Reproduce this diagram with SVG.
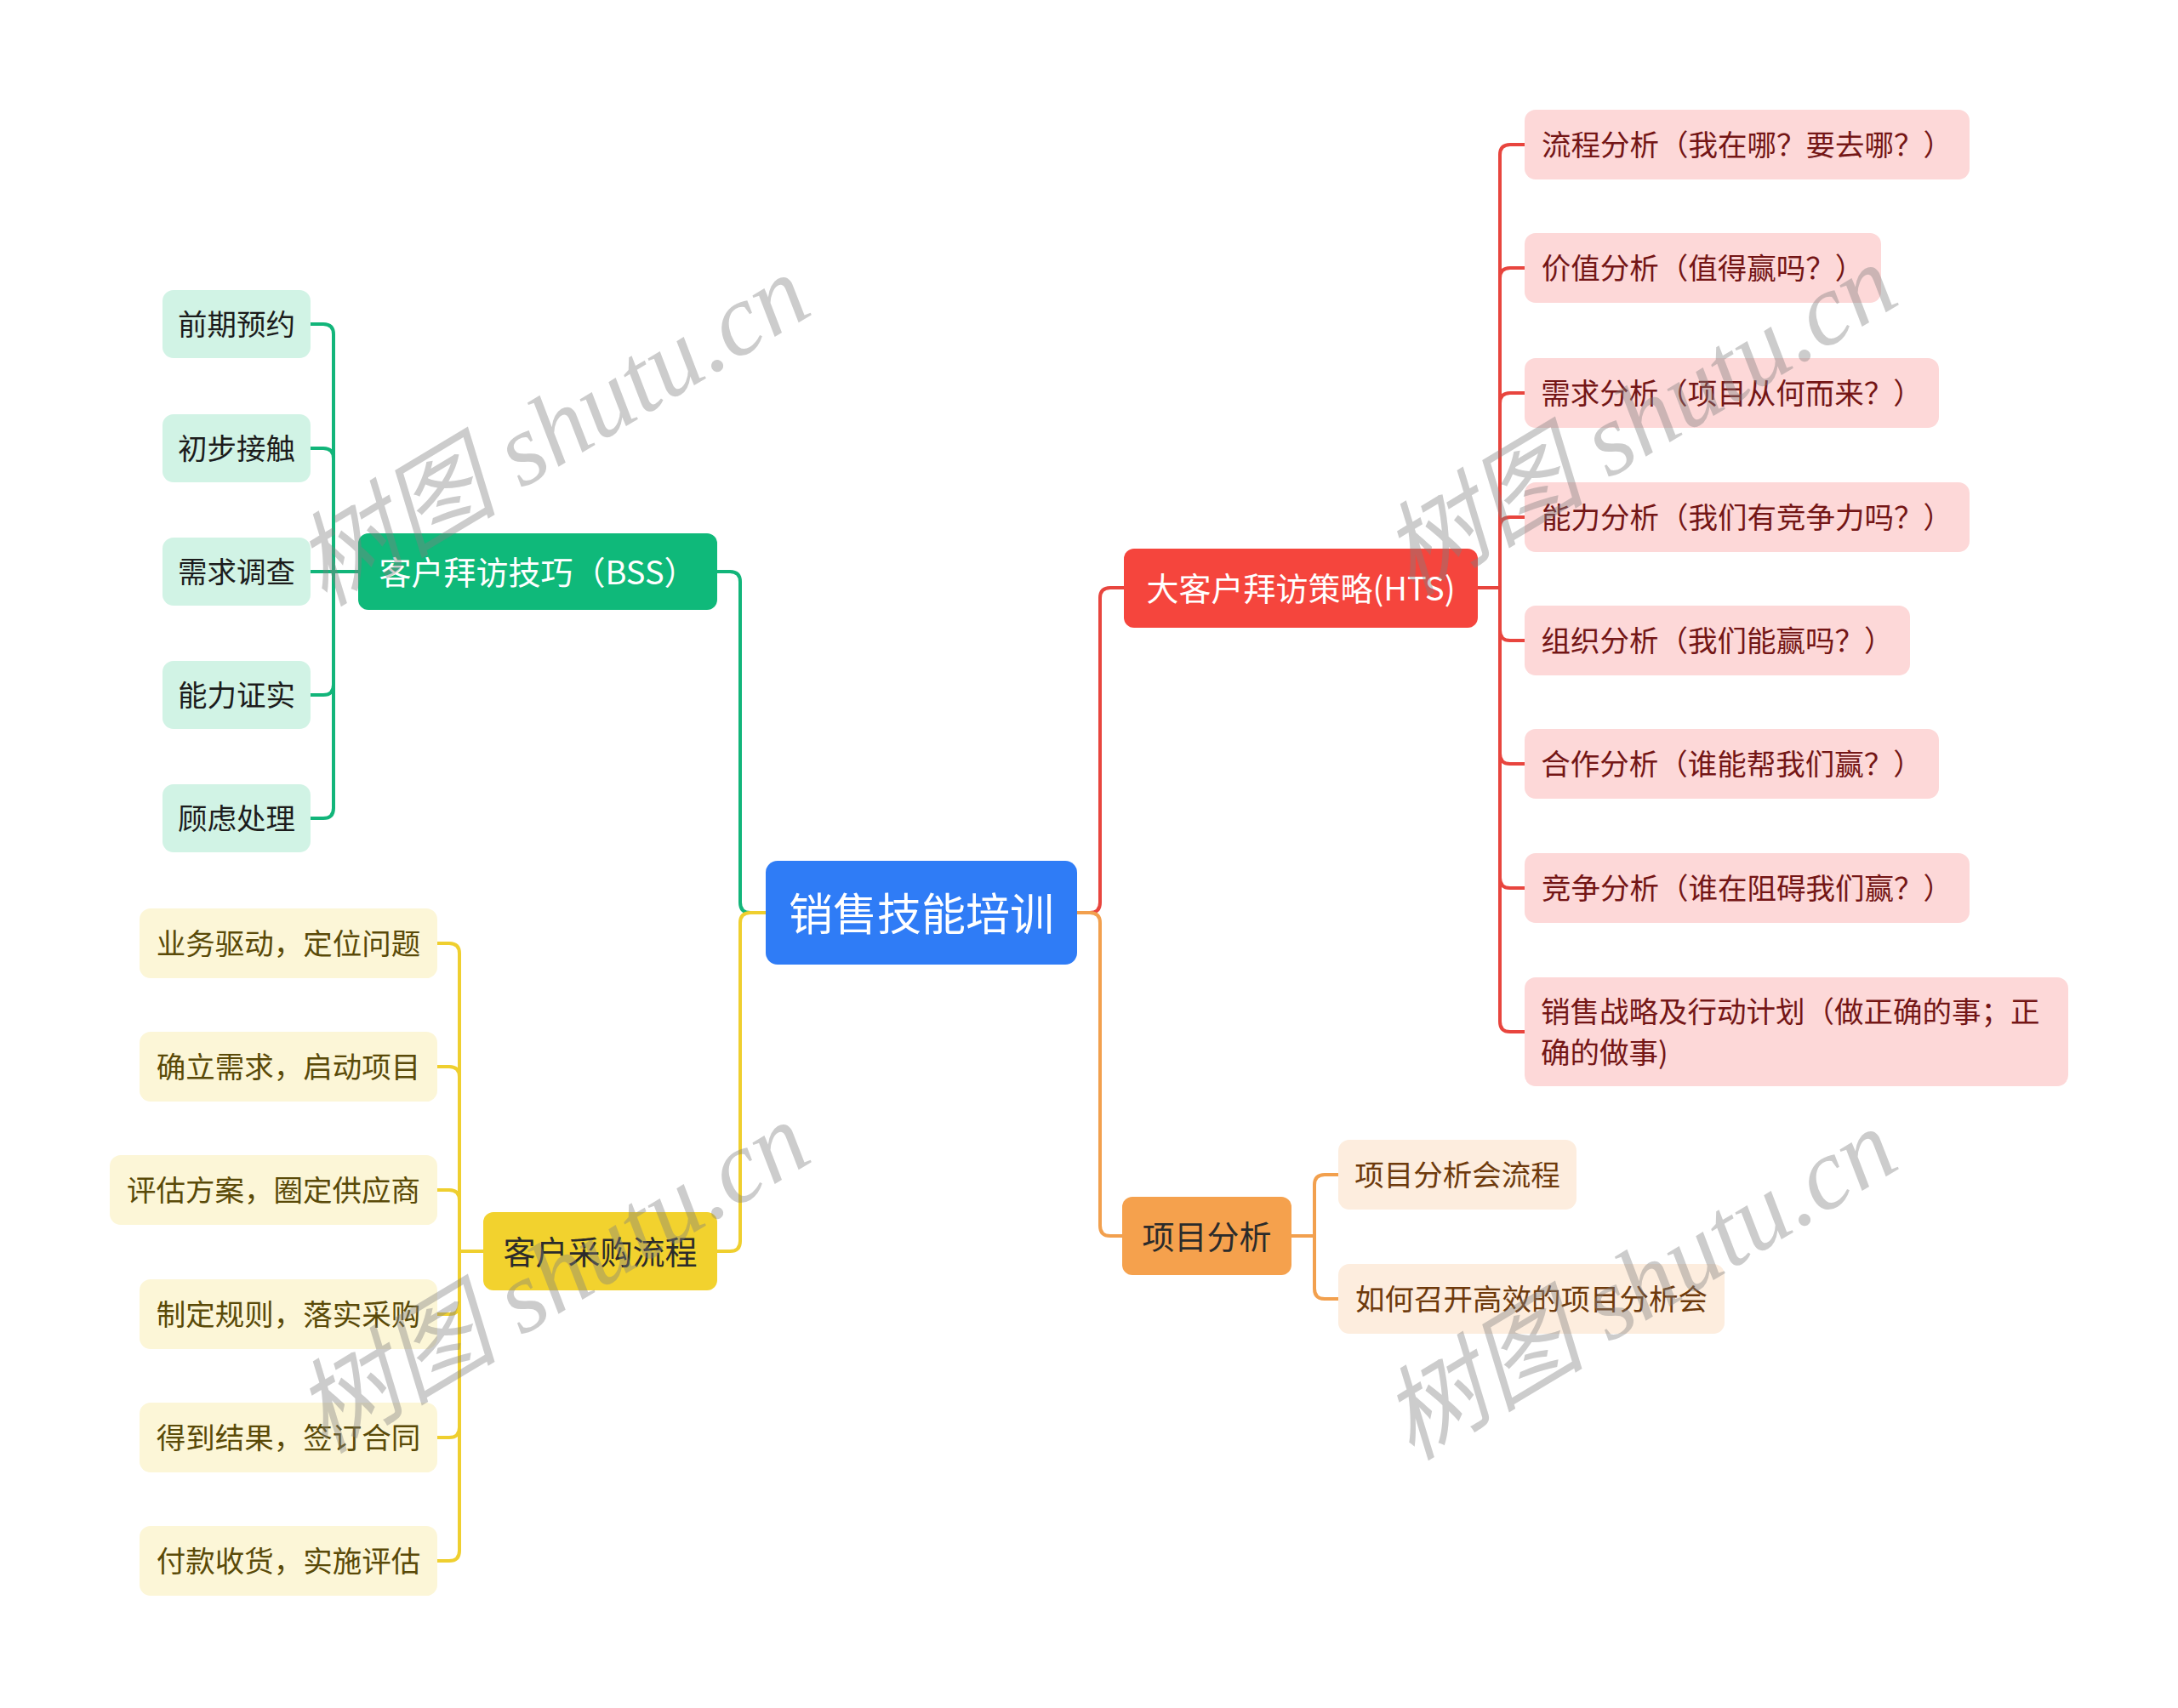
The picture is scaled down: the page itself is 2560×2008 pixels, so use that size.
<svg xmlns="http://www.w3.org/2000/svg" width="2560" height="2008" viewBox="0 0 2560 2008">
<style>
text{font-family:"Noto Sans CJK SC","Noto Sans",sans-serif;dominant-baseline:central;}
.c{fill:none;stroke-width:4;stroke-linecap:round;stroke-linejoin:round;}
.cg{stroke:#12B57A}.cy{stroke:#EFCF2F}.cr{stroke:#E8453E}.co{stroke:#F2A04E}
.t0{font-size:52px;fill:#fff;text-anchor:middle}
.t1w{font-size:38px;fill:#fff;text-anchor:middle}
.t1d{font-size:38px;fill:#2b2b2b;text-anchor:middle}
.lf{font-size:34.5px;text-anchor:middle}
.lg{fill:#D1F3E5}.lgt{fill:#1c1c1c}
.ly{fill:#FCF6D7}.lyt{fill:#5A4A08}
.lr{fill:#FDD8D8}.lrt{fill:#741616}
.lo{fill:#FDEDDE}.lot{fill:#6E3A0C}
.wm{font-family:"Liberation Serif","Noto Sans CJK SC",serif;font-style:italic;font-size:120px;fill:#808080;fill-opacity:0.4;text-anchor:middle}
</style>
<rect width="2560" height="2008" fill="#fff"/>
<g id="connectors">
<path class="c cg" d="M900,1073 H882 Q870,1073 870,1061 V684 Q870,672 858,672 H843"/>
<path class="c cy" d="M900,1073 H882 Q870,1073 870,1085 V1459 Q870,1471 858,1471 H843"/>
<path class="c cr" d="M1266,1073 H1281 Q1293,1073 1293,1061 V703 Q1293,691 1305,691 H1321"/>
<path class="c co" d="M1266,1073 H1281 Q1293,1073 1293,1085 V1441 Q1293,1453 1305,1453 H1319"/>
<path class="c cg" d="M421,672 H392 V393 Q392,381 380,381 H365"/>
<path class="c cg" d="M421,672 H392 V539 Q392,527 380,527 H365"/>
<path class="c cg" d="M421,672 H365"/>
<path class="c cg" d="M421,672 H392 V805 Q392,817 380,817 H365"/>
<path class="c cg" d="M421,672 H392 V950 Q392,962 380,962 H365"/>
<path class="c cy" d="M568,1471 H540 V1121 Q540,1109 528,1109 H514"/>
<path class="c cy" d="M568,1471 H540 V1266 Q540,1254 528,1254 H514"/>
<path class="c cy" d="M568,1471 H540 V1411 Q540,1399 528,1399 H514"/>
<path class="c cy" d="M568,1471 H540 V1533 Q540,1545 528,1545 H514"/>
<path class="c cy" d="M568,1471 H540 V1678 Q540,1690 528,1690 H514"/>
<path class="c cy" d="M568,1471 H540 V1823 Q540,1835 528,1835 H514"/>
<path class="c cr" d="M1737,691 H1763 V182 Q1763,170 1775,170 H1792"/>
<path class="c cr" d="M1737,691 H1763 V327 Q1763,315 1775,315 H1792"/>
<path class="c cr" d="M1737,691 H1763 V474 Q1763,462 1775,462 H1792"/>
<path class="c cr" d="M1737,691 H1763 V620 Q1763,608 1775,608 H1792"/>
<path class="c cr" d="M1737,691 H1763 V741 Q1763,753 1775,753 H1792"/>
<path class="c cr" d="M1737,691 H1763 V886 Q1763,898 1775,898 H1792"/>
<path class="c cr" d="M1737,691 H1763 V1032 Q1763,1044 1775,1044 H1792"/>
<path class="c cr" d="M1737,691 H1763 V1201 Q1763,1213 1775,1213 H1792"/>
<path class="c co" d="M1518,1453 H1545 V1393 Q1545,1381 1557,1381 H1573"/>
<path class="c co" d="M1518,1453 H1545 V1515 Q1545,1527 1557,1527 H1573"/>
</g>
<g id="root"><rect x="900" y="1012" width="366" height="122" rx="14" fill="#2F7CF6"/><text class="t0" x="1083" y="1071">销售技能培训</text></g>
<g id="bss"><rect x="421" y="627" width="422" height="90" rx="12" fill="#0FB97A"/><text class="t1w" x="632" y="670">客户拜访技巧（BSS）</text></g>
<g id="buy"><rect x="568" y="1425" width="275" height="92" rx="12" fill="#F2D22E"/><text class="t1d" x="705.5" y="1469">客户采购流程</text></g>
<g id="hts"><rect x="1321" y="645" width="416" height="93" rx="12" fill="#F5453D"/><text class="t1w" x="1529" y="689">大客户拜访策略(HTS)</text></g>
<g id="proj"><rect x="1319" y="1407" width="199" height="92" rx="12" fill="#F5A14D"/><text class="t1d" x="1418.5" y="1451">项目分析</text></g>

<g id="g1"><rect class="lg" x="191" y="341" width="174" height="80" rx="13"/><text class="lf lgt" x="278" y="379">前期预约</text></g>
<g id="g2"><rect class="lg" x="191" y="487" width="174" height="80" rx="13"/><text class="lf lgt" x="278" y="525">初步接触</text></g>
<g id="g3"><rect class="lg" x="191" y="632" width="174" height="80" rx="13"/><text class="lf lgt" x="278" y="670">需求调查</text></g>
<g id="g4"><rect class="lg" x="191" y="777" width="174" height="80" rx="13"/><text class="lf lgt" x="278" y="815">能力证实</text></g>
<g id="g5"><rect class="lg" x="191" y="922" width="174" height="80" rx="13"/><text class="lf lgt" x="278" y="960">顾虑处理</text></g>

<g id="y1"><rect class="ly" x="164" y="1068" width="350" height="82" rx="13"/><text class="lf lyt" x="339" y="1107">业务驱动，定位问题</text></g>
<g id="y2"><rect class="ly" x="164" y="1213" width="350" height="82" rx="13"/><text class="lf lyt" x="339" y="1252">确立需求，启动项目</text></g>
<g id="y3"><rect class="ly" x="129" y="1358" width="385" height="82" rx="13"/><text class="lf lyt" x="321.5" y="1397">评估方案，圈定供应商</text></g>
<g id="y4"><rect class="ly" x="164" y="1504" width="350" height="82" rx="13"/><text class="lf lyt" x="339" y="1543">制定规则，落实采购</text></g>
<g id="y5"><rect class="ly" x="164" y="1649" width="350" height="82" rx="13"/><text class="lf lyt" x="339" y="1688">得到结果，签订合同</text></g>
<g id="y6"><rect class="ly" x="164" y="1794" width="350" height="82" rx="13"/><text class="lf lyt" x="339" y="1833">付款收货，实施评估</text></g>

<g id="r1"><rect class="lr" x="1792" y="129" width="523" height="82" rx="13"/><text class="lf lrt" x="2053.5" y="168">流程分析（我在哪？要去哪？）</text></g>
<g id="r2"><rect class="lr" x="1792" y="274" width="419" height="82" rx="13"/><text class="lf lrt" x="2001.5" y="313">价值分析（值得赢吗？）</text></g>
<g id="r3"><rect class="lr" x="1792" y="421" width="487" height="82" rx="13"/><text class="lf lrt" x="2035.5" y="460">需求分析（项目从何而来？）</text></g>
<g id="r4"><rect class="lr" x="1792" y="567" width="523" height="82" rx="13"/><text class="lf lrt" x="2053.5" y="606">能力分析（我们有竞争力吗？）</text></g>
<g id="r5"><rect class="lr" x="1792" y="712" width="453" height="82" rx="13"/><text class="lf lrt" x="2018.5" y="751">组织分析（我们能赢吗？）</text></g>
<g id="r6"><rect class="lr" x="1792" y="857" width="487" height="82" rx="13"/><text class="lf lrt" x="2035.5" y="896">合作分析（谁能帮我们赢？）</text></g>
<g id="r7"><rect class="lr" x="1792" y="1003" width="523" height="82" rx="13"/><text class="lf lrt" x="2053.5" y="1042">竞争分析（谁在阻碍我们赢？）</text></g>
<g id="r8"><rect class="lr" x="1792" y="1149" width="639" height="128" rx="13"/><text class="lf lrt" style="text-anchor:start" x="1811" y="1187">销售战略及行动计划（做正确的事；正</text><text class="lf lrt" style="text-anchor:start" x="1811" y="1235">确的做事)</text></g>

<g id="o1"><rect class="lo" x="1573" y="1340" width="280" height="82" rx="13"/><text class="lf lot" x="1713" y="1379">项目分析会流程</text></g>
<g id="o2"><rect class="lo" x="1573" y="1486" width="454" height="82" rx="13"/><text class="lf lot" x="1800" y="1525">如何召开高效的项目分析会</text></g>

<g id="watermarks">
<text class="wm" x="649" y="506" transform="rotate(-31 649 506)">树图 shutu.cn</text>
<text class="wm" x="1927" y="494" transform="rotate(-31 1927 494)">树图 shutu.cn</text>
<text class="wm" x="649" y="1502" transform="rotate(-31 649 1502)">树图 shutu.cn</text>
<text class="wm" x="1927" y="1510" transform="rotate(-31 1927 1510)">树图 shutu.cn</text>
</g>
</svg>
